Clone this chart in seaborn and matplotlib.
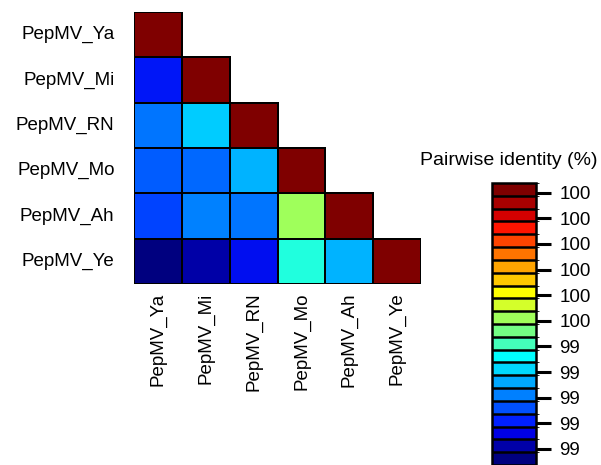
import numpy as np
import pandas as pd
import matplotlib
matplotlib.use("Agg")
import matplotlib.pyplot as plt
import seaborn as sns
from matplotlib.colors import LinearSegmentedColormap, ListedColormap, BoundaryNorm
from matplotlib.cm import ScalarMappable

# ---- data ----
isolates = ["PepMV_Ya", "PepMV_Mi", "PepMV_RN", "PepMV_Mo", "PepMV_Ah", "PepMV_Ye"]
row_Ya = [100.0]
row_Mi = [99.25, 100.0]
row_RN = [99.33, 99.41, 100.0]
row_Mo = [99.31, 99.32, 99.39, 100.0]
row_Ah = [99.29, 99.34, 99.33, 99.58, 100.0]
row_Ye = [99.14, 99.18, 99.24, 99.48, 99.39, 100.0]
rows = [row_Ya, row_Mi, row_RN, row_Mo, row_Ah, row_Ye]

# colour scale, low -> high
palette_colors = ["#00007F", "#0000A8", "#0000E4", "#0020FF", "#0050FF", "#0080FF",
                  "#00A8FF", "#00D8FF", "#00FFFF", "#44FFBA", "#74FF84", "#A0FF5A",
                  "#D4FF2A", "#FFFF00", "#FFC800", "#FFA400", "#FF7400", "#FF4400",
                  "#FF1400", "#D40000", "#A80000", "#7F0000"]
scale_min = 99.12
scale_max = 100.0
cbar_ticks = [99.97, 99.89, 99.81, 99.73, 99.65, 99.57, 99.49, 99.41, 99.33, 99.25, 99.17]
cbar_title = "Pairwise identity (%)"

# ---- build table ----
n = len(isolates)
mat = np.full((n, n), np.nan)
for i, r in enumerate(rows):
    mat[i, :len(r)] = r
df = pd.DataFrame(mat, index=isolates, columns=isolates)
mask = np.isnan(mat)

nc = len(palette_colors)
pos = [0.0] + [(k + 0.5) / nc for k in range(nc)] + [1.0]
cols = [palette_colors[0]] + palette_colors + [palette_colors[-1]]
cont_cmap = LinearSegmentedColormap.from_list("pid", list(zip(pos, cols)))

W, H = 601, 465
fig = plt.figure(figsize=(W / 100, H / 100), dpi=100)
plt.rcParams["font.family"] = ["Liberation Sans", "DejaVu Sans"]
fs = 13.5

ax = fig.add_axes([134 / W, 1 - 284 / H, 287 / W, 272 / H])
sns.heatmap(df, mask=mask, cmap=cont_cmap, vmin=scale_min, vmax=scale_max,
            cbar=False, linewidths=1.3, linecolor="black", ax=ax)
# hide the edges of masked (upper-triangle) cells
mesh = ax.collections[0]
arr = mesh.get_array()
m = np.ma.getmaskarray(arr).ravel()
ec = np.zeros((m.size, 4))
ec[~m] = [0, 0, 0, 1]
mesh.set_edgecolors(ec)

ax.tick_params(length=0, labelsize=fs)
ax.tick_params(axis="y", pad=14)
ax.tick_params(axis="x", pad=6)
ax.set_yticklabels(isolates, rotation=0, fontsize=fs)
ax.set_xticklabels(isolates, rotation=90, fontsize=fs)
ax.set_xlabel("")
ax.set_ylabel("")

cax = fig.add_axes([492 / W, 0, 44 / W, (H - 183) / H])
norm = BoundaryNorm(np.linspace(scale_min, scale_max, nc + 1), nc)
sm = ScalarMappable(norm=norm, cmap=ListedColormap(palette_colors))
cb = fig.colorbar(sm, cax=cax, drawedges=True)
cb.dividers.set_color("black")
cb.dividers.set_linewidth(1.8)
cb.outline.set_edgecolor("black")
cb.outline.set_linewidth(1.8)
cb.set_ticks(cbar_ticks)
cb.set_ticklabels([f"{t:.0f}" for t in cbar_ticks])
cax.tick_params(length=11, width=2.2, labelsize=fs, pad=6)

fig.text(420 / W, 1 - 160 / H, cbar_title, fontsize=14, ha="left", va="center")

fig.savefig("out.png", dpi=100)
